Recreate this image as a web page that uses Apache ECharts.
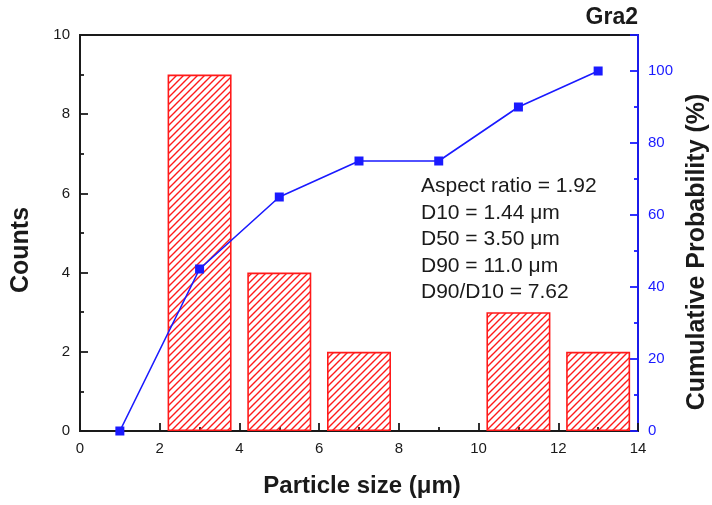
<!DOCTYPE html>
<html>
<head>
    <meta charset="utf-8">
    <title>Gra2</title>
    <script src="https://cdn.jsdelivr.net/npm/echarts@6/dist/echarts.min.js"></script>
    <style>
        body { margin: 0; background: #fff; }
        #chart1 { width: 712px; height: 505px; }
    </style>
</head>
<body>
<div id="chart1"></div>
<script type="text/javascript">
    // 数据
    var binCenters = [3, 5, 7, 9, 11, 13];
    var binCounts = [9, 4, 2, 0, 3, 2];
    var cumSizes = [1, 3, 5, 7, 9, 11, 13];
    var cumProb = [0, 45, 65, 75, 75, 90, 100];
    var statLines = [
        'Aspect ratio = 1.92',
        'D10 = 1.44 \u03bcm',
        'D50 = 3.50 \u03bcm',
        'D90 = 11.0 \u03bcm',
        'D90/D10 = 7.62'
    ];

    // 斜线填充
    var hatch = document.createElement('canvas');
    hatch.width = 7;
    hatch.height = 7;
    var ctx = hatch.getContext('2d');
    ctx.strokeStyle = '#ff1a1a';
    ctx.lineWidth = 1.4;
    ctx.beginPath();
    ctx.moveTo(-1, 8); ctx.lineTo(8, -1);
    ctx.moveTo(-1, 1); ctx.lineTo(1, -1);
    ctx.moveTo(6, 8); ctx.lineTo(8, 6);
    ctx.stroke();

    var font = 'Liberation Sans, Arial, sans-serif';
    var black = '#1a1a1a';
    var blue = '#1a1aff';
    var myChart1 = echarts.init(document.getElementById('chart1'));

    var barData = binCenters.map(function (x, i) {
        var item = { value: [x, binCounts[i]] };
        if (binCounts[i] === 0) item.itemStyle = { borderWidth: 0 };
        return item;
    });

    myChart1.setOption({
        animation: false,
        grid: {
            left: 80, right: 74, top: 35, bottom: 74,
            outerBoundsMode: 'none',
            show: true, borderColor: black, borderWidth: 1.8
        },
        xAxis: {
            type: 'value', min: 0, max: 14, interval: 2,
            axisLine: { lineStyle: { color: black, width: 1.8 } },
            axisTick: { inside: true, length: 8, lineStyle: { color: black, width: 1.8 } },
            minorTick: { show: true, splitNumber: 2, length: 4, lineStyle: { color: black, width: 1.8 } },
            axisLabel: { fontFamily: font, fontSize: 15, color: black, margin: 10 },
            splitLine: { show: false }
        },
        yAxis: [{
            type: 'value', min: 0, max: 10, interval: 2, position: 'left',
            axisLine: { show: true, lineStyle: { color: black, width: 1.8 } },
            axisTick: { inside: true, length: 8, lineStyle: { color: black, width: 1.8 } },
            minorTick: { show: true, splitNumber: 2, length: 4, lineStyle: { color: black, width: 1.8 } },
            axisLabel: { fontFamily: font, fontSize: 15, color: black, margin: 10 },
            splitLine: { show: false }
        }, {
            type: 'value', min: 0, max: 110, interval: 20, position: 'right',
            axisLine: { show: true, lineStyle: { color: blue, width: 1.8 } },
            axisTick: { inside: true, length: 8, lineStyle: { color: blue, width: 1.8 } },
            minorTick: { show: true, splitNumber: 2, length: 4, lineStyle: { color: blue, width: 1.8 } },
            axisLabel: {
                fontFamily: font, fontSize: 15, color: blue, margin: 10,
                formatter: function (v) { return v > 100 ? '' : v; }
            },
            splitLine: { show: false }
        }],
        graphic: [{
            type: 'text', x: 638, y: 18,
            style: { text: 'Gra2', font: 'bold 23px ' + font, fill: black, align: 'right', verticalAlign: 'middle' }
        }, {
            type: 'text', x: 362, y: 486,
            style: { text: 'Particle size (\u03bcm)', font: 'bold 24px ' + font, fill: black, align: 'center', verticalAlign: 'middle' }
        }, {
            type: 'text', x: 21, y: 250, rotation: Math.PI / 2,
            style: { text: 'Counts', font: 'bold 25px ' + font, fill: black, align: 'center', verticalAlign: 'middle' }
        }, {
            type: 'text', x: 697, y: 252, rotation: Math.PI / 2,
            style: { text: 'Cumulative Probability (%)', font: 'bold 25px ' + font, fill: black, align: 'center', verticalAlign: 'middle' }
        }, {
            type: 'text', left: 421, top: 173,
            style: {
                text: statLines.join('\n'),
                font: '21px ' + font,
                lineHeight: 26.5,
                fill: black
            }
        }],
        series: [{
            name: 'Counts',
            type: 'bar',
            barWidth: 64,
            data: barData,
            itemStyle: {
                color: { image: hatch, repeat: 'repeat' },
                borderColor: '#ff1a1a',
                borderWidth: 1.6
            }
        }, {
            name: 'Cumulative Probability',
            type: 'line',
            yAxisIndex: 1,
            data: cumSizes.map(function (x, i) { return [x, cumProb[i]]; }),
            symbol: 'rect',
            symbolSize: 9,
            lineStyle: { color: blue, width: 1.6 },
            itemStyle: { color: blue },
            z: 5
        }]
    });
</script>
</body>
</html>
